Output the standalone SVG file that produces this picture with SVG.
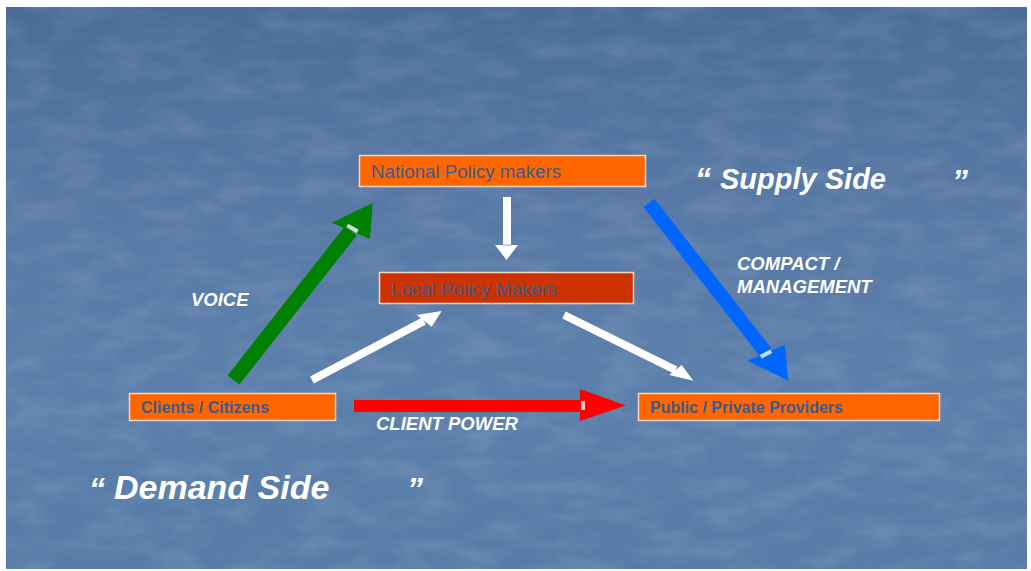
<svg xmlns="http://www.w3.org/2000/svg" width="1031" height="571" viewBox="0 0 1031 571">
<defs>
<linearGradient id="bg" x1="0" y1="0" x2="0" y2="1">
<stop offset="0" stop-color="#4a6d97"/>
<stop offset="0.35" stop-color="#5879a6"/>
<stop offset="0.7" stop-color="#5b7fab"/>
<stop offset="1" stop-color="#587ca8"/>
</linearGradient>
<filter id="tex" x="0" y="0" width="100%" height="100%">
<feTurbulence type="fractalNoise" baseFrequency="0.02 0.05" numOctaves="4" seed="7" result="n"/>
<feColorMatrix in="n" type="matrix" values="0 0 0 0 1  0 0 0 0 1  0 0 0 0 1  0 0 0 0.6 -0.24"/>
</filter>
<style>
.box{stroke:#f2d8c8;stroke-width:1.5}
.ntxt{font-family:"Liberation Sans",Arial,sans-serif;font-size:18.7px;fill:#3d5a87}
.btxt{font-family:"Liberation Sans",Arial,sans-serif;font-size:16px;font-weight:bold;fill:#3d5a87}
.lbl{font-family:"Liberation Sans",Arial,sans-serif;font-size:18.5px;font-weight:bold;font-style:italic;fill:#ffffff}
.big{font-family:"Liberation Sans",Arial,sans-serif;font-weight:bold;font-style:italic;fill:#ffffff}
.white{fill:#ffffff}
</style>
</defs>
<rect x="0" y="0" width="1031" height="571" fill="#ffffff"/>
<rect x="6" y="7" width="1021" height="562" fill="url(#bg)"/>
<rect x="6" y="7" width="1021" height="562" filter="url(#tex)" opacity="0.35"/>

<g id="connectors">
<g id="arrow-national-local">
<rect x="503" y="197" width="8" height="48" class="white"/>
<polygon points="495,245 518,245 506.5,260" class="white"/>
<rect x="503" y="244.5" width="8" height="1.5" fill="#b9c7d8"/>
</g>
<g id="arrow-voice">
<polygon points="239.4,384.6 227.6,375.4 344.9,226.2 356.7,235.4" fill="#008000"/>
<polygon points="331.7,222.7 372.7,203 370,239" fill="#008000"/>
<rect x="-6" y="-2" width="12" height="4" fill="#cfe0d6" transform="translate(352.5,228.5) rotate(30)"/>
</g>
<g id="arrow-compact">
<polygon points="643.5,207.3 654.5,198.7 771.5,348.5 760.5,357.1" fill="#0066ff"/>
<polygon points="747.3,360.7 785,345 788.3,380.7" fill="#0066ff"/>
<rect x="-6" y="-2" width="12" height="4" fill="#c9d8ee" transform="translate(766,354) rotate(-28)"/>
</g>
<g id="arrow-client-power">
<rect x="354" y="400" width="228" height="12" fill="#ff0000"/>
<polygon points="580,389 626,405.5 580,421" fill="#ff0000"/>
<rect x="581" y="401" width="4" height="9" fill="#f2c4c4"/>
</g>
<g id="arrow-clients-local">
<line x1="312" y1="380" x2="424" y2="321" stroke="#ffffff" stroke-width="8"/>
<polygon points="416.7,315 441.7,311 431.7,326.7" class="white"/>
</g>
<g id="arrow-local-providers">
<line x1="564" y1="315" x2="675.5" y2="370" stroke="#ffffff" stroke-width="8"/>
<polygon points="669.3,375 681.7,365 693.3,380.7" class="white"/>
</g>
</g>

<g id="node-national">
<rect x="359.5" y="155.5" width="286" height="31" fill="#ff6600" class="box"/>
<text x="371" y="178" class="ntxt">National Policy makers</text>
</g>
<g id="node-local">
<rect x="379.5" y="272.5" width="254" height="31" fill="#cc3300" class="box"/>
<text x="391" y="296" class="ntxt">Local Policy Makers</text>
</g>
<g id="node-clients">
<rect x="129.5" y="393.5" width="206" height="27" fill="#ff6600" class="box"/>
<text x="141" y="413" class="btxt">Clients / Citizens</text>
</g>
<g id="node-providers">
<rect x="638.5" y="393.5" width="301" height="27" fill="#ff6600" class="box"/>
<text x="650" y="413" class="btxt">Public / Private Providers</text>
</g>

<g id="labels">
<text x="191" y="306" class="lbl">VOICE</text>
<text x="376" y="430" class="lbl">CLIENT POWER</text>
<text x="737" y="270" class="lbl">COMPACT /</text>
<text x="737" y="293" class="lbl">MANAGEMENT</text>
<text x="695" y="190" class="big" font-size="32">“</text>
<text x="720" y="189" class="big" font-size="29">Supply Side</text>
<text x="952" y="192" class="big" font-size="32">”</text>
<text x="89" y="500" class="big" font-size="32">“</text>
<text x="114" y="499" class="big" font-size="34">Demand Side</text>
<text x="407" y="500" class="big" font-size="32">”</text>
</g>
</svg>
